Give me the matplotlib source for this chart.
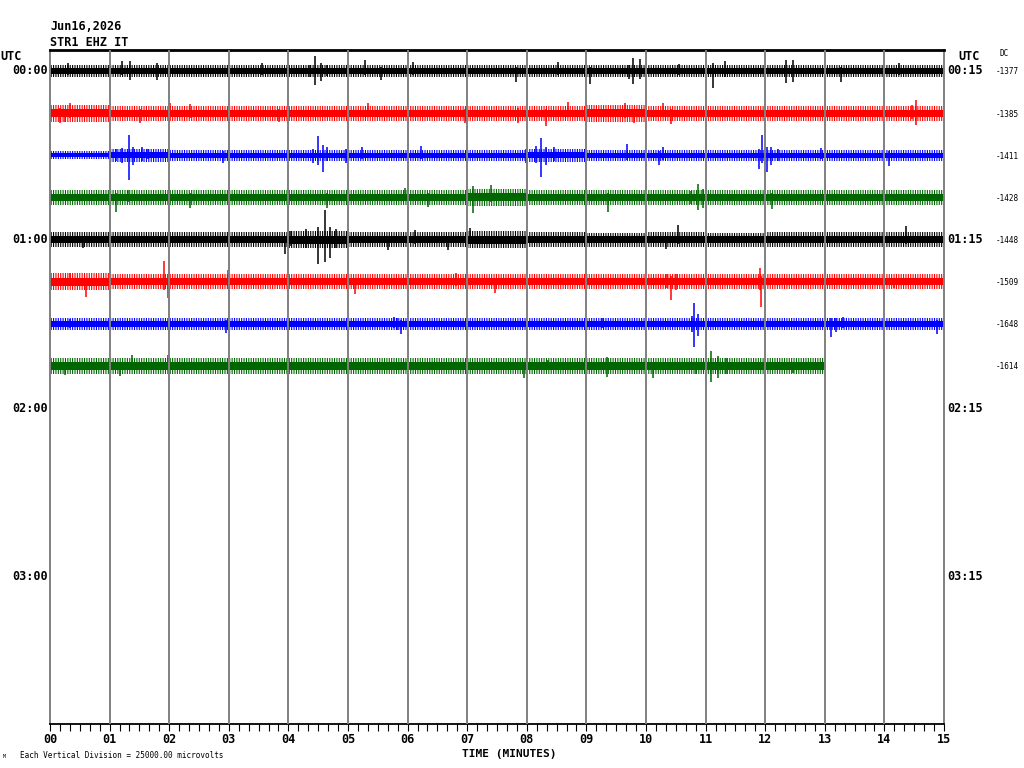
import matplotlib
matplotlib.use('Agg')
from matplotlib import pyplot as plt
import numpy as np

# helicorder: 15 minutes per line, 4 lines per hour, 1 division = 25 mV
date_text = 'Jun16,2026'
station = 'STR1 EHZ IT'
left_hours = ['00:00', '01:00', '02:00', '03:00']
right_hours = ['00:15', '01:15', '02:15', '03:15']
dc_values = [-1377, -1385, -1411, -1428, -1448, -1509, -1648, -1614]
colors = ['black', 'red', 'blue', '#006600'] * 2
division_mv = 25.0

# background noise half-width per minute (mV)
noise_0 = [1.8, 2.0, 1.8, 1.8, 1.8, 1.8, 1.8, 1.8, 1.8, 2.0, 1.8, 1.8, 1.8, 1.8, 1.8]
noise_1 = [2.6, 2.4, 2.4, 2.4, 2.4, 2.4, 2.4, 2.4, 2.4, 2.6, 2.4, 2.4, 2.4, 2.4, 2.4]
noise_2 = [1.3, 2.0, 1.8, 1.8, 1.8, 1.8, 1.8, 1.8, 2.0, 1.8, 1.8, 1.8, 1.8, 1.8, 1.8]
noise_3 = [2.4, 2.4, 2.4, 2.4, 2.4, 2.4, 2.4, 2.6, 2.4, 2.4, 2.4, 2.4, 2.4, 2.4, 2.4]
noise_4 = [2.4, 2.4, 2.4, 2.4, 2.6, 2.4, 2.4, 2.6, 2.4, 2.2, 2.4, 2.2, 2.4, 2.4, 2.4]
noise_5 = [2.6, 2.4, 2.4, 2.4, 2.4, 2.4, 2.4, 2.4, 2.4, 2.4, 2.4, 2.4, 2.4, 2.4, 2.4]
noise_6 = [1.8, 1.8, 1.8, 1.8, 1.8, 1.8, 1.8, 1.8, 1.8, 1.8, 1.8, 1.8, 1.8, 1.8, 1.8]
noise_7 = [2.4, 2.4, 2.4, 2.4, 2.4, 2.4, 2.4, 2.4, 2.4, 2.4, 2.4, 2.4, 2.4]
noise = [noise_0, noise_1, noise_2, noise_3, noise_4, noise_5, noise_6, noise_7]

# notable excursions: (minute, up mV, down mV)
peaks_0 = [(0.31, 4.8, 2.4), (1.20, 6.0, 2.4), (1.34, 6.0, 5.4), (1.79, 4.8, 5.4), (3.55, 4.8, 2.4),
           (4.36, 3.6, 3.6), (4.45, 9.0, 8.4), (4.55, 4.8, 6.0), (4.65, 3.6, 3.0), (5.28, 6.6, 2.4),
           (5.56, 2.4, 5.4), (6.09, 5.4, 2.4), (7.82, 2.4, 6.6), (8.52, 5.4, 2.4), (9.06, 2.4, 7.8),
           (9.72, 3.6, 4.8), (9.78, 7.8, 7.8), (9.90, 7.2, 4.8), (10.56, 4.2, 2.4), (11.13, 4.8, 10.2),
           (11.32, 6.0, 3.6), (12.35, 6.6, 7.2), (12.46, 6.6, 6.6), (13.28, 2.4, 6.6), (14.25, 4.8, 2.4)]
peaks_1 = [(0.17, 3.0, 6.0), (0.25, 2.4, 5.4), (0.34, 6.0, 3.0), (1.51, 2.4, 6.0), (2.01, 6.0, 2.4),
           (2.35, 5.4, 3.0), (3.85, 2.4, 5.4), (5.34, 6.0, 2.4), (6.96, 2.4, 6.0), (7.85, 3.0, 6.0),
           (8.32, 2.4, 7.8), (8.69, 6.6, 2.4), (9.64, 6.0, 3.0), (9.80, 2.4, 6.0), (10.28, 6.0, 2.4),
           (10.42, 2.4, 6.6), (14.46, 4.8, 3.6), (14.53, 7.8, 7.2)]
peaks_2 = [(1.10, 3.6, 3.6), (1.20, 4.2, 4.8), (1.32, 12.0, 14.4), (1.40, 4.8, 6.0), (1.55, 4.8, 3.6),
           (1.65, 3.6, 2.4), (2.90, 2.4, 4.8), (4.42, 3.6, 4.8), (4.49, 11.4, 6.0), (4.58, 6.0, 10.2),
           (4.65, 4.8, 3.6), (4.97, 3.6, 4.8), (5.23, 4.8, 2.4), (6.23, 5.4, 2.4), (7.98, 3.6, 4.8),
           (8.15, 5.4, 4.8), (8.23, 10.2, 12.6), (8.32, 4.8, 6.0), (8.45, 4.8, 3.6), (9.68, 6.6, 3.0),
           (10.22, 2.4, 6.0), (10.28, 4.8, 3.0), (11.90, 3.6, 8.4), (11.94, 12.0, 4.8), (12.03, 4.8, 10.2),
           (12.10, 4.8, 6.0), (12.22, 3.6, 3.6), (12.93, 4.2, 2.4), (14.08, 2.4, 6.6)]
peaks_3 = [(1.10, 2.4, 8.4), (1.31, 4.2, 3.0), (2.35, 2.4, 6.0), (4.64, 2.4, 6.0), (5.95, 5.4, 2.4),
           (6.34, 2.4, 5.4), (7.09, 6.6, 9.0), (7.40, 7.2, 3.0), (9.37, 2.4, 8.4), (10.75, 3.6, 3.6),
           (10.87, 7.8, 7.2), (10.95, 4.8, 6.0), (12.11, 2.4, 6.6)]
peaks_4 = [(0.56, 2.4, 4.8), (3.94, 2.4, 8.4), (4.05, 4.8, 3.6), (4.30, 6.0, 4.8), (4.50, 7.2, 14.4),
           (4.62, 17.4, 13.2), (4.70, 7.2, 10.8), (4.80, 6.0, 4.8), (5.67, 2.4, 6.0), (6.12, 5.4, 2.4),
           (6.68, 2.4, 6.0), (7.04, 6.6, 2.4), (10.34, 2.4, 5.4), (10.53, 8.4, 2.4), (14.36, 7.8, 2.4)]
peaks_5 = [(0.34, 5.4, 2.4), (0.61, 2.4, 9.0), (1.92, 12.0, 4.8), (1.98, 4.8, 9.6), (2.99, 7.2, 2.4),
           (5.11, 2.4, 7.2), (6.82, 5.4, 2.4), (7.46, 2.4, 6.6), (10.36, 4.8, 3.6), (10.42, 3.6, 10.8),
           (10.50, 4.8, 4.8), (11.91, 8.4, 4.8), (11.93, 3.6, 15.0), (12.00, 4.8, 4.8), (14.16, 2.4, 3.6)]
peaks_6 = [(0.34, 3.0, 2.4), (2.96, 2.4, 5.4), (5.78, 4.2, 2.4), (5.83, 3.6, 3.6), (5.89, 2.4, 6.0),
           (9.27, 3.6, 2.4), (10.78, 4.8, 4.8), (10.81, 12.6, 13.8), (10.88, 6.0, 7.2), (11.00, 4.8, 3.6),
           (13.10, 3.6, 7.8), (13.18, 3.6, 4.8), (13.30, 4.2, 2.4), (14.89, 2.4, 6.0)]
peaks_7 = [(0.25, 2.4, 5.4), (1.17, 2.4, 6.0), (1.37, 6.6, 2.4), (1.98, 6.6, 2.4), (7.96, 2.4, 7.2),
           (8.35, 3.6, 2.4), (9.35, 5.4, 6.6), (10.12, 2.4, 7.2), (10.84, 2.4, 4.8), (11.09, 9.0, 9.6),
           (11.20, 6.0, 7.2), (11.35, 4.8, 4.8), (12.46, 2.4, 4.2)]
peaks = [peaks_0, peaks_1, peaks_2, peaks_3, peaks_4, peaks_5, peaks_6, peaks_7]

W, H = 1024, 768
plt.rcParams['hatch.linewidth'] = 0.8
fig = plt.figure(figsize=(W / 100, H / 100), dpi=100)
ax = fig.add_axes([50 / W, (H - 724) / H, 894 / W, 674 / H])
ax.set_xlim(0, 15)
ax.set_ylim(15.5, -0.5)

mono = 'DejaVu Sans Mono'

for i in range(len(noise)):
    c = colors[i]
    n = np.array(noise[i] + [noise[i][-1]]) / division_mv
    xs = np.arange(len(n))
    # dense core of the trace
    ax.fill_between(xs, i - 0.9 * n, i + 0.9 * n, step='post', color=c, lw=0)
    # fringe of the noise band, drawn as a fine vertical comb
    with plt.rc_context({'hatch.color': c}):
        ax.fill_between(xs, i - 1.9 * n, i + 1.9 * n, step='post', facecolor='none',
                        edgecolor=c, hatch='|' * 7, lw=0)
    t = [p[0] for p in peaks[i]]
    up = [i - p[1] / division_mv for p in peaks[i]]
    dn = [i + p[2] / division_mv for p in peaks[i]]
    ax.vlines(t, up, dn, color=c, lw=1.1)

for m in range(1, 15):
    ax.axvline(m, color='#808080', lw=1.4, zorder=3)

ax.spines['top'].set_linewidth(2)
ax.spines['bottom'].set_linewidth(1.3)
for s in ['left', 'right']:
    ax.spines[s].set_color('#808080')
    ax.spines[s].set_linewidth(1.4)

ax.set_yticks([])
ax.set_xticks(range(16))
ax.set_xticklabels(['%02d' % m for m in range(16)], family=mono, fontweight='bold', fontsize=8.5)
ax.set_xticks(np.arange(0, 15.01, 1 / 6), minor=True)
ax.tick_params(axis='x', which='both', direction='out', length=5, width=0.8, pad=1.5)


def px(x, y):
    return x / W, 1 - y / H


fig.text(*px(50, 26), date_text, family=mono, fontweight='bold', fontsize=8.5, va='center')
fig.text(*px(50, 42), station, family=mono, fontweight='bold', fontsize=8.5, va='center')
fig.text(*px(0, 57), 'UTC', family=mono, fontweight='bold', fontsize=8.5, va='center')
fig.text(*px(958, 57), 'UTC', family=mono, fontweight='bold', fontsize=8.5, va='center')
fig.text(*px(999, 54), 'DC', family=mono, fontsize=5.5, va='center')
for k in range(4):
    y = 71 + k * 4 * 42.125
    fig.text(*px(48, y), left_hours[k], family=mono, fontweight='bold', fontsize=8.5, va='center', ha='right')
    fig.text(*px(947, y), right_hours[k], family=mono, fontweight='bold', fontsize=8.5, va='center')
for i, v in enumerate(dc_values):
    fig.text(*px(996, 72 + i * 42.125), str(v), family=mono, fontsize=5.5, va='center')

fig.text(*px(509, 754), 'TIME (MINUTES)', family=mono, fontweight='bold', fontsize=8, va='center', ha='center')
fig.text(*px(20, 755), 'Each Vertical Division = 25000.00 microvolts', family=mono, fontsize=5.5, va='center')
fig.text(*px(3, 757), 'M', family=mono, fontsize=3.5, va='center')

plt.savefig('out.png', dpi=100)
